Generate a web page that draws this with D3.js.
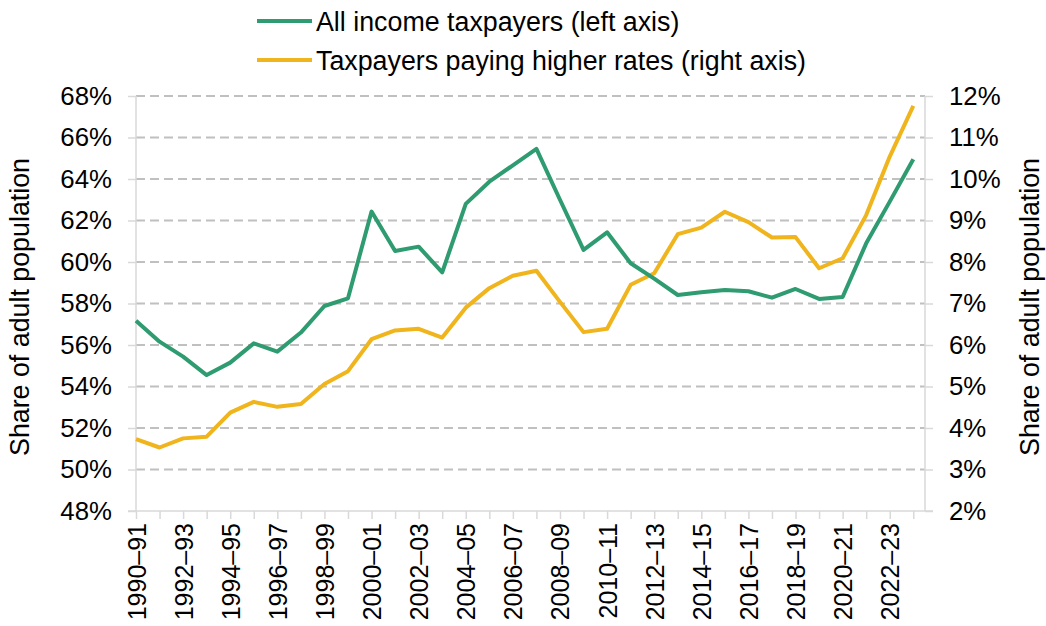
<!doctype html>
<html lang="en">
<head>
<meta charset="utf-8">
<title>Share of adult population paying income tax</title>
<script src="https://cdn.jsdelivr.net/npm/d3@7"></script>
<style>
  body { margin: 0; background: #fff; }
  svg { display: block; font-family: "Liberation Sans", Arial, sans-serif; }
</style>
</head>
<body>
<svg id="chart" width="1046" height="626"></svg>
<script>
// tax years on the x axis
var years = ["1990–91", "1991–92", "1992–93", "1993–94", "1994–95", "1995–96", "1996–97", "1997–98",
  "1998–99", "1999–00", "2000–01", "2001–02", "2002–03", "2003–04", "2004–05", "2005–06", "2006–07",
  "2007–08", "2008–09", "2009–10", "2010–11", "2011–12", "2012–13", "2013–14", "2014–15", "2015–16",
  "2016–17", "2017–18", "2018–19", "2019–20", "2020–21", "2021–22", "2022–23", "2023–24"];

// all income taxpayers, % of adults (left axis)
var allTaxpayers = [57.17, 56.16, 55.44, 54.55, 55.15, 56.08, 55.68, 56.6, 57.88, 58.25, 62.43, 60.53,
  60.74, 59.5, 62.8, 63.87, 64.66, 65.45, 63.0, 60.58, 61.43, 59.94, 59.2, 58.41, 58.54, 58.65, 58.59,
  58.28, 58.7, 58.22, 58.31, 60.9, 62.91, 64.95];

// taxpayers paying higher rates, % of adults (right axis)
var higherRate = [3.73, 3.53, 3.75, 3.79, 4.37, 4.63, 4.51, 4.58, 5.06, 5.37, 6.14, 6.35, 6.39, 6.18,
  6.9, 7.37, 7.67, 7.79, 7.04, 6.31, 6.39, 7.45, 7.73, 8.67, 8.83, 9.21, 8.96, 8.59, 8.6, 7.85, 8.09,
  9.13, 10.54, 11.76];

var leftTicks = [48, 50, 52, 54, 56, 58, 60, 62, 64, 66, 68];
var rightTicks = [2, 3, 4, 5, 6, 7, 8, 9, 10, 11, 12];
var seriesNames = ["All income taxpayers (left axis)", "Taxpayers paying higher rates (right axis)"];

var green = "#2e9b70", yellow = "#f0b41c", axisGrey = "#d9d9d9", gridGrey = "#c0c0c0";
var fontSize = "26.8px", tickFont = "25.8px", yearFont = "25px";

var svg = d3.select("#chart");
// plot box (window.top is taken, so longer names)
var plotL = 136, plotR = 925, plotT = 96, plotB = 511;

var x = d3.scalePoint().domain(years).range([plotL, 913.3]);
var yL = d3.scaleLinear().domain([48, 68]).range([plotB, plotT]);
var yR = d3.scaleLinear().domain([2, 12]).range([plotB, plotT]);

// gridlines
svg.append("g").selectAll("line").data(leftTicks.slice(1)).join("line")
  .attr("x1", plotL).attr("x2", plotR)
  .attr("y1", d => yL(d)).attr("y2", d => yL(d))
  .attr("stroke", gridGrey).attr("stroke-width", 1.8).attr("stroke-dasharray", "9,5");

function styleAxis(g, size) {
  g.select(".domain").remove();
  g.selectAll(".tick line").attr("stroke", axisGrey).attr("stroke-width", 1.5);
  g.selectAll(".tick text").attr("fill", "#000").style("font-size", size);
}

// left axis
var gl = svg.append("g").attr("transform", `translate(${plotL},0)`)
  .call(d3.axisLeft(yL).tickValues(leftTicks).tickSize(8).tickPadding(16).tickFormat(d => d + "%"))
  .call(styleAxis, tickFont);
gl.append("line").attr("y1", plotT).attr("y2", plotB).attr("stroke", axisGrey).attr("stroke-width", 1.5);

// right axis
var gr = svg.append("g").attr("transform", `translate(${plotR},0)`)
  .call(d3.axisRight(yR).tickValues(rightTicks).tickSize(8).tickPadding(16).tickFormat(d => d + "%"))
  .call(styleAxis, tickFont);
gr.append("line").attr("y1", plotT).attr("y2", plotB).attr("stroke", axisGrey).attr("stroke-width", 1.5);

// bottom axis
var gb = svg.append("g").attr("transform", `translate(0,${plotB})`)
  .call(d3.axisBottom(x).tickSize(8).tickFormat((d, i) => i % 2 === 0 ? d : ""))
  .call(styleAxis, yearFont);
gb.append("line").attr("x1", plotL - 8).attr("x2", plotR + 8).attr("stroke", axisGrey).attr("stroke-width", 1.5);
gb.selectAll(".tick text")
  .attr("transform", "rotate(-90)")
  .attr("text-anchor", "end")
  .attr("x", -12).attr("y", 0).attr("dy", "0.36em");

// lines
var lineL = d3.line().x((d, i) => x(years[i])).y(d => yL(d));
var lineR = d3.line().x((d, i) => x(years[i])).y(d => yR(d));
svg.append("path").datum(higherRate).attr("d", lineR)
  .attr("fill", "none").attr("stroke", yellow).attr("stroke-width", 4).attr("stroke-linejoin", "round");
svg.append("path").datum(allTaxpayers).attr("d", lineL)
  .attr("fill", "none").attr("stroke", green).attr("stroke-width", 4).attr("stroke-linejoin", "round");

// axis titles
svg.append("text").attr("transform", "translate(29,307) rotate(-90)")
  .attr("text-anchor", "middle").style("font-size", fontSize).text("Share of adult population");
svg.append("text").attr("transform", "translate(1039,307) rotate(-90)")
  .attr("text-anchor", "middle").style("font-size", fontSize).text("Share of adult population");

// legend
var legend = svg.append("g").selectAll("g").data(seriesNames).join("g")
  .attr("transform", (d, i) => `translate(257,${21 + i * 39})`);
legend.append("line").attr("x1", 0).attr("x2", 55)
  .attr("stroke", (d, i) => i === 0 ? green : yellow).attr("stroke-width", 4);
legend.append("text").attr("x", 59).attr("dy", "0.36em")
  .style("font-size", fontSize).text(d => d);
</script>
</body>
</html>
